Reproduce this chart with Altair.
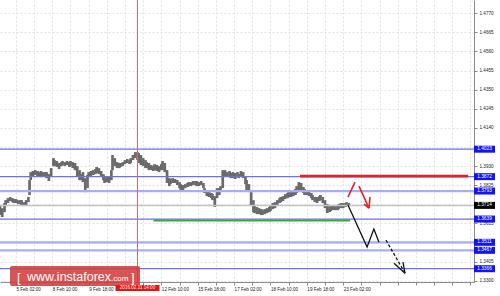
import altair as alt
import pandas as pd

# ---------------- data ----------------
# hourly bar index (0 = left edge of the chart) and high / low prices
bar_idx = [0,2,4,5,7,9,11,12,14,16,
           18,19,21,23,25,26,27,29,31,33,
           34,36,38,40,41,43,45,47,48,50,
           52,54,55,57,59,61,62,64,66,68,
           70,71,73,75,77,78,80,82,84,85,
           87,89,91,92,94,96,98,99,101,103,
           105,106,108,110,112,114,115,117,119,121,
           122,124,126,128,129,131,133,135,136,138,
           140,142,143,145,147,149,150,152,154,156,
           158,159,161,163,165,166,168,170,172,173,
           175,177,179,180,182,184,186,187,189,191,
           193,194,196,198,200,202,203,205,207,209,
           210,212,214,216,217,219,221,223,224,226,
           228,230,231,233,235,237,238,240,242,244,
           246,247,249,251,253,254,256,258,260,261,
           263,265,267,268,270,272,274,275,277,279,
           281,282,284,286,288,290,291,293,295,297,
           298,300,302,304,305,307]
bar_high = [1.3716,1.3699,1.3727,1.3743,1.3754,1.3760,1.3754,1.3749,1.3749,1.3743,
            1.3743,1.3743,1.3732,1.3743,1.3760,1.3853,1.3897,1.3903,1.3908,1.3903,
            1.3897,1.3903,1.3897,1.3897,1.3897,1.3886,1.3919,1.3974,1.3963,1.3958,
            1.3947,1.3952,1.3958,1.3952,1.3958,1.3952,1.3958,1.3952,1.3947,1.3930,
            1.3908,1.3886,1.3897,1.3864,1.3881,1.3897,1.3903,1.3908,1.3914,1.3925,
            1.3919,1.3903,1.3886,1.3875,1.3875,1.3870,1.3908,1.3991,1.3974,1.3952,
            1.3947,1.3947,1.3952,1.3963,1.3969,1.3963,1.3974,1.3991,1.4007,1.4007,
            1.4002,1.3991,1.3974,1.3963,1.3952,1.3947,1.3936,1.3930,1.3941,1.3936,
            1.3930,1.3941,1.3958,1.3947,1.3908,1.3864,1.3859,1.3864,1.3859,1.3853,
            1.3842,1.3831,1.3826,1.3831,1.3837,1.3842,1.3842,1.3848,1.3848,1.3848,
            1.3842,1.3848,1.3837,1.3809,1.3798,1.3787,1.3782,1.3776,1.3765,1.3809,
            1.3809,1.3820,1.3908,1.3908,1.3897,1.3903,1.3892,1.3897,1.3892,1.3897,
            1.3886,1.3903,1.3897,1.3875,1.3853,1.3831,1.3787,1.3743,1.3716,1.3705,
            1.3699,1.3694,1.3688,1.3694,1.3699,1.3705,1.3716,1.3727,1.3732,1.3743,
            1.3754,1.3760,1.3765,1.3776,1.3782,1.3787,1.3787,1.3793,1.3804,1.3820,
            1.3842,1.3837,1.3815,1.3804,1.3798,1.3793,1.3782,1.3771,1.3760,1.3760,
            1.3765,1.3771,1.3760,1.3743,1.3721,1.3710,1.3710,1.3716,1.3710,1.3716,
            1.3721,1.3727,1.3727,1.3727,1.3732,1.3727]
bar_low = [1.3661,1.3650,1.3677,1.3710,1.3727,1.3738,1.3732,1.3727,1.3727,1.3721,
           1.3721,1.3716,1.3710,1.3716,1.3732,1.3771,1.3853,1.3875,1.3881,1.3875,
           1.3870,1.3875,1.3870,1.3875,1.3864,1.3848,1.3875,1.3930,1.3930,1.3925,
           1.3914,1.3930,1.3936,1.3930,1.3936,1.3925,1.3930,1.3919,1.3908,1.3875,
           1.3853,1.3853,1.3842,1.3787,1.3809,1.3870,1.3875,1.3881,1.3886,1.3892,
           1.3886,1.3870,1.3853,1.3837,1.3842,1.3837,1.3853,1.3908,1.3930,1.3919,
           1.3919,1.3925,1.3930,1.3941,1.3947,1.3941,1.3947,1.3963,1.3974,1.3963,
           1.3947,1.3936,1.3930,1.3919,1.3919,1.3908,1.3908,1.3903,1.3908,1.3903,
           1.3897,1.3908,1.3908,1.3897,1.3837,1.3820,1.3831,1.3837,1.3837,1.3826,
           1.3809,1.3798,1.3798,1.3809,1.3815,1.3820,1.3820,1.3826,1.3826,1.3820,
           1.3820,1.3826,1.3809,1.3782,1.3765,1.3760,1.3754,1.3743,1.3705,1.3754,
           1.3771,1.3787,1.3809,1.3875,1.3870,1.3875,1.3864,1.3864,1.3859,1.3870,
           1.3864,1.3875,1.3864,1.3831,1.3798,1.3787,1.3716,1.3677,1.3672,1.3666,
           1.3666,1.3661,1.3661,1.3666,1.3672,1.3677,1.3683,1.3694,1.3699,1.3716,
           1.3727,1.3732,1.3738,1.3749,1.3754,1.3760,1.3760,1.3765,1.3771,1.3782,
           1.3798,1.3798,1.3782,1.3771,1.3771,1.3765,1.3754,1.3743,1.3732,1.3727,
           1.3738,1.3743,1.3727,1.3699,1.3672,1.3677,1.3683,1.3688,1.3688,1.3688,
           1.3694,1.3699,1.3699,1.3705,1.3710,1.3710]

# axes
y_ticks = [1.4770, 1.4665, 1.4560, 1.4455, 1.4350, 1.4245, 1.4140, 1.4035,
           1.3930, 1.3825, 1.3720, 1.3615, 1.3510, 1.3405, 1.3300]
y_ticks_hidden = [1.4035, 1.3720, 1.3510]   # covered by price boxes
x_grid = [-2, 14, 30, 46, 62, 78, 94, 110, 126, 142, 158, 174, 190, 206,
          222, 238, 254, 270, 286, 302, 318, 334, 350, 366, 382, 398, 414]
x_label_pos = [14, 46, 78, 142, 174, 206, 238, 270, 302]
x_label_text = ["5 Feb 02:00", "8 Feb 10:00", "9 Feb 18:00", "12 Feb 10:00",
                "15 Feb 18:00", "17 Feb 02:00", "18 Feb 10:00", "19 Feb 18:00",
                "23 Feb 02:00"]

# horizontal levels
level_price = [1.4023, 1.3872, 1.3793, 1.3639, 1.3511, 1.3467, 1.3366]
level_style = ["dark", "dark", "light", "dark", "light", "light", "dark"]
current_price = [1.3714]
resist_price = [1.3875]
resist_from = [264]
resist_to = [412]
support_price = [1.3631]
support_from = [135]
support_to = [308]
cross_idx = [121]
cross_label = ["2016.02.11 14:00"]

# hand-drawn forecast arrows (segment id, bar index, price)
red_seg = [0, 0, 1, 1, 2, 2, 3, 3]
red_x = [306.2, 312.4, 315.9, 324.7, 320.3, 324.7, 325.6, 324.7]
red_y = [1.3760, 1.3842, 1.3820, 1.3699, 1.3721, 1.3699, 1.3760, 1.3699]
blk_seg = [0, 0, 0, 0, 2, 2, 3, 3]
blk_x = [306.2, 323.0, 329.0, 333.5, 346.7, 356.4, 354.6, 356.4]
blk_y = [1.3716, 1.3485, 1.3584, 1.3512, 1.3396, 1.3341, 1.3402, 1.3341]
dash_x = [339.7, 356.4]
dash_y = [1.3523, 1.3341]

# ---------------- chart ----------------
X_DOM = [0, 417.1]
Y_DOM = [1.3293, 1.4843]
xs = alt.Scale(domain=X_DOM, nice=False, zero=False)
ys = alt.Scale(domain=Y_DOM, nice=False, zero=False)
FONT = "Liberation Sans"

pos_s = ",".join(str(v) for v in x_label_pos)
lab_s = ",".join("'" + t + "'" for t in x_label_text)
x_label_expr = (f"indexof([{pos_s}], datum.value) >= 0 ? "
                f"[{lab_s}][indexof([{pos_s}], datum.value)] : ''")
hid_s = ",".join(str(v) for v in y_ticks_hidden)
y_label_expr = (f"indexof([{hid_s}], datum.value) >= 0 ? '' : "
                f"format(datum.value, '.4f')")

GRID = "#e2e2e2"
x_axis = alt.Axis(values=x_grid, labelExpr=x_label_expr, title=None, grid=True,
                  gridDash=[2, 2], gridColor=GRID, gridWidth=1,
                  domainColor="#8a8a8a", tickColor="#8a8a8a", tickSize=3,
                  labelAlign="left", labelBaseline="top", labelPadding=1,
                  labelFontSize=4.6, labelFont=FONT, labelColor="#222222",
                  labelOverlap=False, labelFlush=False, labelBound=False)
y_axis = alt.Axis(values=y_ticks, labelExpr=y_label_expr, title=None,
                  orient="right",
                  grid=True, gridDash=[2, 2], gridColor=GRID, gridWidth=1,
                  domainColor="#8a8a8a", tickColor="#8a8a8a", tickSize=3,
                  labelAlign="left", labelBaseline="middle", labelPadding=2,
                  labelFontSize=4.6, labelFont=FONT, labelColor="#222222",
                  labelOverlap=False, labelFlush=False, labelBound=False)


def X(field):
    return alt.X(field, scale=xs, axis=x_axis, title=None)


def Y(field):
    return alt.Y(field, scale=ys, axis=y_axis, title=None)


bars = pd.DataFrame({"i": bar_idx, "hi": bar_high, "lo": bar_low})
levels = pd.DataFrame({"p": level_price, "style": level_style})

price = alt.Chart(bars).mark_rule(color="#6a6a6a", strokeWidth=2.7).encode(
    x=X("i:Q"), y=Y("hi:Q"), y2="lo:Q")

cur_line = alt.Chart(pd.DataFrame({"p": current_price})).mark_rule(
    color="#c4c4c4", strokeWidth=1.5).encode(y=Y("p:Q"))

level_lines = alt.Chart(levels).mark_rule().encode(
    y=Y("p:Q"),
    color=alt.Color("style:N", scale=alt.Scale(domain=["dark", "light"],
                    range=["#6f6fea", "#a9aef4"]), legend=None),
    size=alt.Size("style:N", scale=alt.Scale(domain=["dark", "light"],
                  range=[1.3, 2.2]), legend=None),
)

cross = alt.Chart(pd.DataFrame({"i": cross_idx})).mark_rule(
    color="#e06868", strokeWidth=1).encode(x=X("i:Q"))

support = alt.Chart(pd.DataFrame({"a": support_from, "b": support_to,
                                  "p": support_price})).mark_rule(
    color="#3aa83a", strokeWidth=2).encode(x=X("a:Q"), x2="b:Q", y=Y("p:Q"))

resist = alt.Chart(pd.DataFrame({"a": resist_from, "b": resist_to,
                                 "p": resist_price})).mark_rule(
    color="#e0202a", strokeWidth=2.6).encode(x=X("a:Q"), x2="b:Q", y=Y("p:Q"))

red_df = pd.DataFrame({"s": red_seg, "x": red_x, "y": red_y,
                       "o": list(range(len(red_x)))})
red_arrow = alt.Chart(red_df).mark_line(color="#e8202a", strokeWidth=1.6).encode(
    x=X("x:Q"), y=Y("y:Q"), detail="s:N", order="o:Q")

blk_df = pd.DataFrame({"s": blk_seg, "x": blk_x, "y": blk_y,
                       "o": list(range(len(blk_x)))})
blk_arrow = alt.Chart(blk_df).mark_line(color="#111111", strokeWidth=1.3).encode(
    x=X("x:Q"), y=Y("y:Q"), detail="s:N", order="o:Q")

dash_df = pd.DataFrame({"x": dash_x, "y": dash_y})
dash_arrow = alt.Chart(dash_df).mark_line(color="#111111", strokeWidth=1.3,
                                          strokeDash=[3, 2]).encode(
    x=X("x:Q"), y=Y("y:Q"))

# watermark
wm = pd.DataFrame({"t": ["www.instaforex"]})
wm_box = alt.Chart(wm).mark_rect(color="#d23c3c", opacity=0.88,
                                 cornerRadius=2).encode(
    x=alt.value(10), x2=alt.value(140), y=alt.value(266), y2=alt.value(286))
wm_text = alt.Chart(wm).mark_text(color="white", font=FONT, fontSize=12.5,
                                  align="left", baseline="alphabetic").encode(
    x=alt.value(27), y=alt.value(281), text="t:N")
wm_com = alt.Chart(pd.DataFrame({"t": [".com"]})).mark_text(
    color="white", font=FONT, fontSize=8, align="left",
    baseline="alphabetic").encode(x=alt.value(111), y=alt.value(281), text="t:N")
wm_l = alt.Chart(pd.DataFrame({"t": ["["]})).mark_text(
    color="white", font=FONT, fontSize=13, align="left",
    baseline="alphabetic").encode(x=alt.value(17), y=alt.value(282), text="t:N")
wm_r = alt.Chart(pd.DataFrame({"t": ["]"]})).mark_text(
    color="white", font=FONT, fontSize=13, align="left",
    baseline="alphabetic").encode(x=alt.value(131), y=alt.value(282), text="t:N")

# price label boxes on the right axis
box_df = pd.DataFrame({"p": level_price + current_price,
                       "lab": [f"{v:.4f}" for v in level_price + current_price],
                       "kind": ["lvl"] * len(level_price) + ["cur"]})
boxes = alt.Chart(box_df).mark_rule(strokeWidth=7, strokeCap="butt").encode(
    x=alt.value(474), x2=alt.value(495), y=Y("p:Q"),
    color=alt.Color("kind:N", scale=alt.Scale(domain=["lvl", "cur"],
                    range=["#1414f0", "#000000"]), legend=None))
box_text = alt.Chart(box_df).mark_text(color="white", font=FONT, fontSize=4.8,
                                       align="center", baseline="middle").encode(
    x=alt.value(484.5), y=Y("p:Q"), text="lab:N")

# crosshair time label
cl_df = pd.DataFrame({"i": cross_idx, "lab": cross_label})
cl_box = alt.Chart(cl_df).mark_rule(color="#ee1111", strokeWidth=6,
                                    strokeCap="butt", xOffset=-22,
                                    x2Offset=22).encode(
    x=X("i:Q"), x2="i:Q", y=alt.value(288))
cl_text = alt.Chart(cl_df).mark_text(color="white", font=FONT, fontSize=4.6,
                                     align="center", baseline="middle").encode(
    x=X("i:Q"), y=alt.value(288), text="lab:N")

chart = alt.layer(
    price, cur_line, level_lines, cross, support, resist,
    red_arrow, blk_arrow, dash_arrow,
    wm_box, wm_text, wm_com, wm_l, wm_r,
    boxes, box_text, cl_box, cl_text,
).resolve_scale(color="independent", size="independent").properties(
    width=474, height=282,
    autosize=alt.AutoSizeParams(type="none"),
    padding={"left": 0, "top": 0, "right": 26, "bottom": 14},
    background="white",
).configure_view(strokeWidth=0)

chart.save("out.html", embed_options={"renderer": "svg", "actions": False})
